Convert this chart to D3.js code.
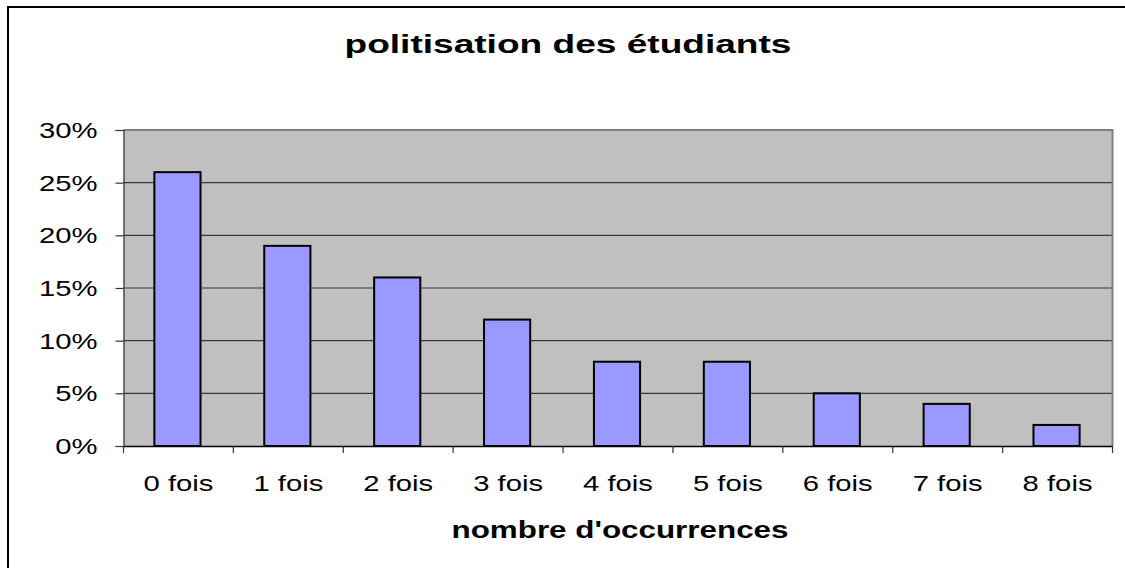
<!DOCTYPE html>
<html>
<head>
<meta charset="utf-8">
<script src="https://cdn.jsdelivr.net/npm/d3@7"></script>
<style>
  html, body { margin: 0; padding: 0; background: #ffffff; }
  svg { display: block; }
  text { font-family: Arial, "Liberation Sans", sans-serif; fill: #000; }
</style>
</head>
<body>
<svg id="chart" width="1125" height="568"></svg>
<script>
const categories = ["0 fois", "1 fois", "2 fois", "3 fois", "4 fois", "5 fois", "6 fois", "7 fois", "8 fois"];
const values = [0.26, 0.19, 0.16, 0.12, 0.08, 0.08, 0.05, 0.04, 0.02];
const yTicks = [0, 0.05, 0.10, 0.15, 0.20, 0.25, 0.30];
const titleText = "politisation des étudiants";
const xAxisTitle = "nombre d'occurrences";

const svg = d3.select("#chart");
const W = 1125, H = 568;
const plot = { left: 123.5, right: 1112.5, top: 130, bottom: 446 };
const sx = 1.33; // horizontal stretch of the text, as in the reference

// outer frame (right/bottom edges fall outside the picture)
svg.append("rect")
  .attr("x", 8).attr("y", 7)
  .attr("width", W + 10).attr("height", H + 10)
  .attr("fill", "#fff").attr("stroke", "#000").attr("stroke-width", 2);

const x = d3.scaleBand().domain(categories).range([plot.left, plot.right]).padding(0);
const y = d3.scaleLinear().domain([0, 0.30]).range([plot.bottom, plot.top]);

// plot background
svg.append("rect")
  .attr("x", plot.left).attr("y", plot.top)
  .attr("width", plot.right - plot.left).attr("height", plot.bottom - plot.top)
  .attr("fill", "#c0c0c0");

// gridlines
svg.append("g").selectAll("line")
  .data(yTicks.filter(d => d > 0 && d < 0.30))
  .join("line")
  .attr("x1", plot.left).attr("x2", plot.right)
  .attr("y1", d => y(d)).attr("y2", d => y(d))
  .attr("stroke", "#3a3a3a").attr("stroke-width", 1.2);

// top & right borders of plot area
svg.append("line").attr("x1", plot.left).attr("x2", plot.right + 1)
  .attr("y1", plot.top).attr("y2", plot.top)
  .attr("stroke", "#808080").attr("stroke-width", 2);
svg.append("line").attr("x1", plot.right).attr("x2", plot.right)
  .attr("y1", plot.top).attr("y2", plot.bottom)
  .attr("stroke", "#808080").attr("stroke-width", 2);

// bars
const barW = x.bandwidth() * 0.42;
svg.append("g").selectAll("rect")
  .data(values)
  .join("rect")
  .attr("x", (d, i) => x(categories[i]) + x.bandwidth() / 2 - barW / 2 - 1)
  .attr("y", d => y(d))
  .attr("width", barW)
  .attr("height", d => plot.bottom - y(d))
  .attr("fill", "#9999ff")
  .attr("stroke", "#000").attr("stroke-width", 2);

// y axis
const yAxis = d3.axisLeft(y).tickValues(yTicks).tickSize(8).tickPadding(0).tickFormat(d3.format(".0%"));
const gy = svg.append("g").attr("transform", `translate(${plot.left},0)`).call(yAxis);
gy.select(".domain").attr("stroke", "#333").attr("stroke-width", 1.2);
gy.selectAll(".tick line").attr("stroke", "#333").attr("stroke-width", 1.2);
gy.selectAll(".tick text")
  .attr("x", null).attr("dy", null)
  .attr("font-size", 22)
  .attr("text-anchor", "end")
  .attr("dominant-baseline", "central")
  .attr("transform", `translate(-26,0) scale(${sx},1)`);

// x axis
const xAxis = d3.axisBottom(x).tickSize(0).tickPadding(0);
const gx = svg.append("g").attr("transform", `translate(0,${plot.bottom})`).call(xAxis);
gx.select(".domain").attr("stroke", "#000").attr("stroke-width", 1.5);
gx.selectAll(".tick text")
  .attr("y", null).attr("dy", null)
  .attr("font-size", 22)
  .attr("text-anchor", "middle")
  .attr("transform", `translate(0,45) scale(${sx},1)`);
// x ticks at category boundaries
const bounds = categories.map(c => x(c)).concat([plot.right]);
gx.append("g").selectAll("line")
  .data(bounds)
  .join("line")
  .attr("x1", d => d).attr("x2", d => d)
  .attr("y1", 0).attr("y2", 7)
  .attr("stroke", "#333").attr("stroke-width", 1.2);

// title
svg.append("text")
  .attr("x", 568).attr("y", 53)
  .attr("text-anchor", "middle")
  .attr("font-size", 26).attr("font-weight", "bold")
  .attr("textLength", 447).attr("lengthAdjust", "spacingAndGlyphs")
  .text(titleText);

// x axis title
svg.append("text")
  .attr("x", 620).attr("y", 538)
  .attr("text-anchor", "middle")
  .attr("font-size", 23).attr("font-weight", "bold")
  .attr("textLength", 337).attr("lengthAdjust", "spacingAndGlyphs")
  .text(xAxisTitle);
</script>
</body>
</html>
